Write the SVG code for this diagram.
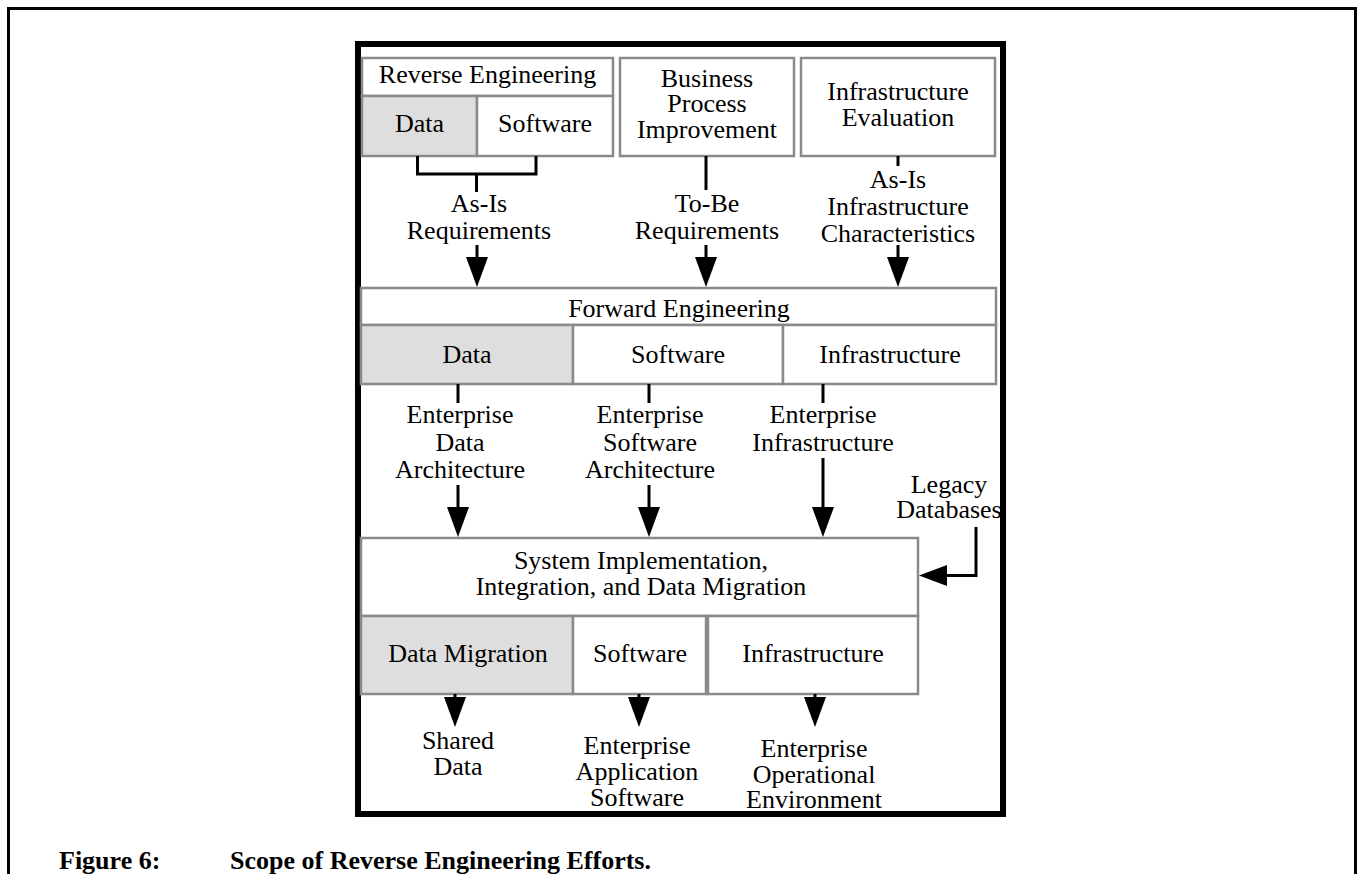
<svg xmlns="http://www.w3.org/2000/svg" width="1359" height="874" viewBox="0 0 1359 874">
  <style>
    text { font-family: "Liberation Serif", "Times New Roman", serif; font-size: 26px; fill: #000; text-anchor: middle; }
    .cap { font-weight: bold; text-anchor: start; }
    .box { fill: #fff; stroke: #8a8a8a; stroke-width: 2.5; }
    .shade { fill: #dedede; stroke: #8a8a8a; stroke-width: 2.5; }
    .wire { fill: none; stroke: #000; stroke-width: 3; }
    .head { fill: #000; stroke: none; }
  </style>

  <!-- page frame and figure border -->
  <path d="M8.5 874 V8.5 H1355.5 V874" fill="none" stroke="#000" stroke-width="3"/>
  <rect x="358" y="44" width="645" height="770" fill="#fff" stroke="#000" stroke-width="6"/>

  <!-- Reverse Engineering -->
  <g id="reverse-engineering">
    <rect class="box" x="362" y="58" width="251" height="38"/>
    <text x="487.5" y="83">Reverse Engineering</text>
    <rect class="shade" x="362" y="96" width="115" height="60"/>
    <text x="419.5" y="132">Data</text>
    <rect class="box" x="477" y="96" width="136" height="60"/>
    <text x="545" y="132">Software</text>
  </g>

  <!-- Business Process Improvement -->
  <g id="business-process">
    <rect class="box" x="620" y="58" width="174" height="98"/>
    <text x="707" y="87">Business</text>
    <text x="707" y="112">Process</text>
    <text x="707" y="138">Improvement</text>
  </g>

  <!-- Infrastructure Evaluation -->
  <g id="infrastructure-evaluation">
    <rect class="box" x="801" y="58" width="194" height="98"/>
    <text x="898" y="100">Infrastructure</text>
    <text x="898" y="126">Evaluation</text>
  </g>

  <!-- Forward Engineering -->
  <g id="forward-engineering">
    <rect class="box" x="361" y="288" width="635" height="37"/>
    <text x="679" y="317">Forward Engineering</text>
    <rect class="shade" x="361" y="325" width="212" height="59"/>
    <text x="467" y="363">Data</text>
    <rect class="box" x="573" y="325" width="210" height="59"/>
    <text x="678" y="363">Software</text>
    <rect class="box" x="783" y="325" width="213" height="59"/>
    <text x="890" y="363">Infrastructure</text>
  </g>

  <!-- System Implementation -->
  <g id="system-implementation">
    <rect class="box" x="361" y="538" width="557" height="78"/>
    <text x="641" y="569">System Implementation,</text>
    <text x="641" y="595">Integration, and Data Migration</text>
    <rect class="shade" x="361" y="616" width="212" height="78"/>
    <text x="468" y="662">Data Migration</text>
    <rect class="box" x="573" y="616" width="134" height="78"/>
    <text x="640" y="662">Software</text>
    <rect class="box" x="707" y="616" width="211" height="78"/>
    <line x1="707" y1="616" x2="707" y2="694" stroke="#8a8a8a" stroke-width="4.5"/>
    <text x="813" y="662">Infrastructure</text>
  </g>

  <!-- flow labels -->
  <g id="as-is-requirements">
    <text x="479" y="212">As-Is</text>
    <text x="479" y="239">Requirements</text>
  </g>
  <g id="to-be-requirements">
    <text x="707" y="212">To-Be</text>
    <text x="707" y="239">Requirements</text>
  </g>
  <g id="as-is-infrastructure">
    <text x="898" y="188">As-Is</text>
    <text x="898" y="215">Infrastructure</text>
    <text x="898" y="242">Characteristics</text>
  </g>
  <g id="enterprise-data-architecture">
    <text x="460" y="423">Enterprise</text>
    <text x="460" y="451">Data</text>
    <text x="460" y="478">Architecture</text>
  </g>
  <g id="enterprise-software-architecture">
    <text x="650" y="423">Enterprise</text>
    <text x="650" y="451">Software</text>
    <text x="650" y="478">Architecture</text>
  </g>
  <g id="enterprise-infrastructure">
    <text x="823" y="423">Enterprise</text>
    <text x="823" y="451">Infrastructure</text>
  </g>
  <g id="legacy-databases">
    <text x="949" y="493">Legacy</text>
    <text x="949" y="518">Databases</text>
  </g>
  <g id="shared-data">
    <text x="458" y="749">Shared</text>
    <text x="458" y="775">Data</text>
  </g>
  <g id="enterprise-application-software">
    <text x="637" y="754">Enterprise</text>
    <text x="637" y="780">Application</text>
    <text x="637" y="806">Software</text>
  </g>
  <g id="enterprise-operational-environment">
    <text x="814" y="757">Enterprise</text>
    <text x="814" y="783">Operational</text>
    <text x="814" y="808">Environment</text>
  </g>

  <!-- connectors -->
  <g id="connectors">
    <path class="wire" d="M417.5 156 V174 H536 V156 M476.5 174 V192"/>
    <path class="wire" d="M477 245 V259"/>
    <polygon class="head" points="466,257 488,257 477,287"/>

    <path class="wire" d="M706 156 V190 M706 245 V259"/>
    <polygon class="head" points="695,257 717,257 706,287"/>

    <path class="wire" d="M898 156 V166 M898 245 V259"/>
    <polygon class="head" points="887,257 909,257 898,287"/>

    <path class="wire" d="M458 384 V403 M458 485 V509"/>
    <polygon class="head" points="447,507 469,507 458,537"/>

    <path class="wire" d="M649 384 V403 M649 485 V509"/>
    <polygon class="head" points="638,507 660,507 649,537"/>

    <path class="wire" d="M823 384 V403 M823 458 V509"/>
    <polygon class="head" points="812,507 834,507 823,537"/>

    <path class="wire" d="M976 527 V575.5 H945"/>
    <polygon class="head" points="947,565 947,586 919,575.5"/>

    <path class="wire" d="M455 694 V699 M639 694 V699 M815 694 V699"/>
    <polygon class="head" points="444,697 466,697 455,727"/>
    <polygon class="head" points="628,697 650,697 639,727"/>
    <polygon class="head" points="804,697 826,697 815,727"/>
  </g>

  <!-- caption -->
  <text class="cap" x="59" y="869">Figure 6:</text>
  <text class="cap" x="230" y="869">Scope of Reverse Engineering Efforts.</text>
</svg>
